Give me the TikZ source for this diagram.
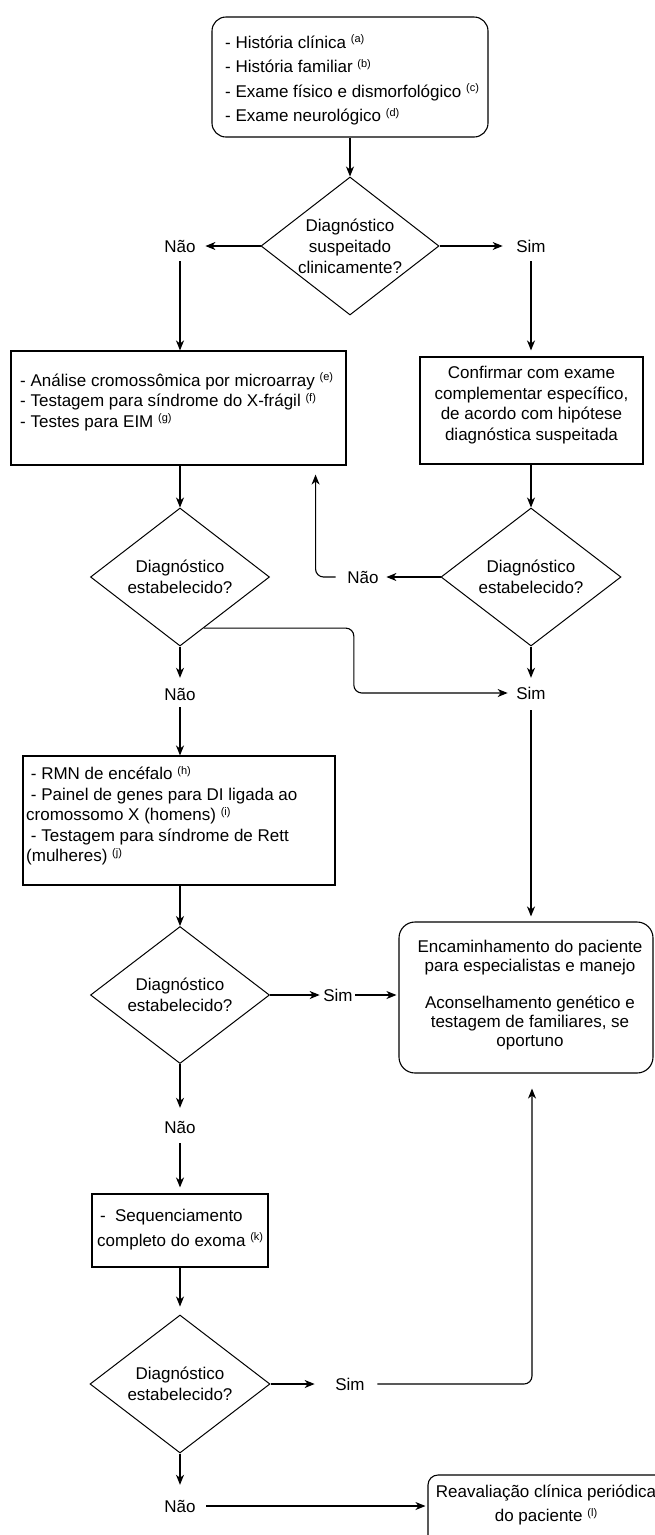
\documentclass[tikz,border=0pt]{standalone}
\usepackage{fontspec}
\setmainfont{Liberation Sans}
\usetikzlibrary{arrows.meta,shapes.geometric,calc}
\newcommand{\supx}[1]{\raisebox{5.5pt}{\fontsize{11}{11}\selectfont #1}}
\begin{document}
\begin{tikzpicture}[x=1pt,y=-1pt,
  ln/.style={line width=1.1pt, draw=black},
  arr/.style={ln, -{Stealth[length=10pt,width=8pt,inset=3pt]}},
  box/.style={draw, line width=1.1pt, inner sep=0pt, rectangle},
  rbox/.style={box, rounded corners=14pt},
  dec/.style={draw, line width=1pt, diamond, inner sep=0pt},
  txt/.style={inner sep=0pt, font=\fontsize{17}{20}\selectfont},
  lab/.style={inner sep=0pt, text height=12pt, text depth=0pt, font=\fontsize{17}{20}\selectfont}
]
\useasboundingbox (0,0) rectangle (655,1535);

% boxes
\node[rbox, minimum width=276pt, minimum height=120pt] (top) at (350,77) {};
\node[txt, align=left, anchor=west, font=\fontsize{17}{24.5}\selectfont] (ttop) at (225,80)
  {- História clínica \supx{(a)}\\- História familiar \supx{(b)}\\- Exame físico e dismorfológico \supx{(c)}\\- Exame neurológico \supx{(d)}};

\node[dec, minimum width=178pt, minimum height=138pt] (d1) at (350,246) {};
\node[txt, align=center, font=\fontsize{17}{21}\selectfont] (td1) at (350,246) {Diagnóstico\\suspeitado\\clinicamente?};

\node[lab] (nao1) at (180,246) {Não};
\node[lab] (sim1) at (531,246) {Sim};

\node[box, minimum width=335pt, minimum height=114pt] (box1) at (178.5,408) {};
\node[txt, align=left, anchor=west, font=\fontsize{17}{20.5}\selectfont] (tb1) at (20,402)
  {- Análise cromossômica por microarray \supx{(e)}\\- Testagem para síndrome do X-frágil \supx{(f)}\\- Testes para EIM \supx{(g)}};

\node[box, minimum width=223pt, minimum height=107pt] (box2) at (531.5,410.5) {};
\node[txt, align=center, font=\fontsize{17}{20.5}\selectfont] (tb2) at (531.5,405)
  {Confirmar com exame\\complementar específico,\\de acordo com hipótese\\diagnóstica suspeitada};

\node[dec, minimum width=179pt, minimum height=138pt] (d2) at (180,577) {};
\node[txt, align=center, font=\fontsize{17}{21.5}\selectfont] (td2) at (180,577) {Diagnóstico\\estabelecido?};
\node[dec, minimum width=180pt, minimum height=138pt] (d3) at (531,577) {};
\node[txt, align=center, font=\fontsize{17}{21.5}\selectfont] (td3) at (531,577) {Diagnóstico\\estabelecido?};

\node[lab] (nao2) at (363,577) {Não};
\node[lab] (sim2) at (531,693) {Sim};
\node[lab] (nao3) at (180,694) {Não};

\node[box, minimum width=312pt, minimum height=129pt] (box3) at (179,820.5) {};
\node[txt, align=left, anchor=west, font=\fontsize{17}{20.5}\selectfont] (tb3) at (26,816)
  {\ - RMN de encéfalo \supx{(h)}\\\ - Painel de genes para DI ligada ao\\cromossomo X (homens) \supx{(i)}\\\ - Testagem para síndrome de Rett\\(mulheres) \supx{(j)}};

\node[dec, minimum width=179pt, minimum height=137pt] (d4) at (180,995) {};
\node[txt, align=center, font=\fontsize{17}{21.5}\selectfont] (td4) at (180,995) {Diagnóstico\\estabelecido?};
\node[lab] (sim3) at (338,995) {Sim};

\node[rbox, rounded corners=16pt, minimum width=254pt, minimum height=151pt] (box6) at (526,997.5) {};
\node[txt, align=center, font=\fontsize{17}{18.8}\selectfont] (tb6) at (530,995)
  {Encaminhamento do paciente\\para especialistas e manejo\\[18.8pt]Aconselhamento genético e\\testagem de familiares, se\\oportuno};

\node[lab] (nao4) at (180,1127) {Não};

\node[box, minimum width=176pt, minimum height=73pt] (box5) at (180,1230.5) {};
\node[txt, align=left, anchor=west, font=\fontsize{17}{25}\selectfont] (tb5) at (97,1229.5)
  {\,-\ \ Sequenciamento\\completo do exoma \supx{(k)}};

\node[dec, minimum width=180pt, minimum height=138pt] (d5) at (180,1384) {};
\node[txt, align=center, font=\fontsize{17}{21.5}\selectfont] (td5) at (180,1384) {Diagnóstico\\estabelecido?};
\node[lab] (sim4) at (350,1384) {Sim};
\node[lab] (nao5) at (180,1506) {Não};

\begin{scope}
\clip (0,0) rectangle (655,1535);
\node[box, rounded corners=10pt, minimum width=260pt, minimum height=90pt] (box7) at (558,1520) {};
\end{scope}
\node[txt, align=center, font=\fontsize{17}{24}\selectfont] (tb7) at (546,1505)
  {Reavaliação clínica periódica\\do paciente \supx{(l)}};

% connectors
\draw[arr] (top.south) -- (d1.north);
\draw[arr, shorten >=9.6pt] (d1.west) -- (nao1.east);
\draw[arr, shorten >=13.5pt] (d1.east) -- (sim1.west);
\draw[arr, shorten <=9pt] (nao1.south) -- (nao1.south |- box1.north);
\draw[arr, shorten <=9pt, shorten >=6pt] (sim1.south) -- (sim1.south |- box2.north);
\draw[arr] (d2.north |- box1.south) -- (d2.north);
\draw[arr] (d3.north |- box2.south) -- (d3.north);
\draw[arr, shorten >=7.6pt] (d3.west) -- (nao2.east);
\draw[arr, rounded corners=8pt, shorten <=11.6pt, shorten >=9pt] (nao2.west) -| ([xshift=-31pt]box1.south east);
\draw[arr, rounded corners=8pt, shorten >=8.5pt] (d2.-65) -- ++(150,0) |- (sim2.west);
\draw[arr, shorten >=9pt] (d3.south) -- (sim2.north);
\draw[arr, shorten <=11pt, shorten >=5pt] (sim2.south) -- (sim2.south |- box6.north);
\draw[arr, shorten >=10pt] (d2.south) -- (nao3.north);
\draw[arr, shorten <=7pt] (nao3.south) -- (nao3.south |- box3.north);
\draw[arr] (d4.north |- box3.south) -- (d4.north);
\draw[arr, shorten >=3.5pt] (d4.east) -- (sim3.west);
\draw[arr, shorten <=2.5pt, shorten >=2pt] (sim3.east) -- (sim3.east -| box6.west);
\draw[arr, shorten >=13pt] (d4.south) -- (nao4.north);
\draw[arr, shorten <=10pt, shorten >=6pt] (nao4.south) -- (box5.north);
\draw[arr, shorten >=8pt] (box5.south) -- (d5.north);
\draw[arr, shorten >=20.5pt] (d5.east) -- (sim4.west);
\draw[arr, rounded corners=8pt, shorten <=12.5pt, shorten >=15pt] (sim4.east) -| ([xshift=6pt]box6.south);
\draw[arr, shorten >=15pt] (d5.south) -- (nao5.north);
\draw[arr, shorten <=10.6pt, shorten >=2pt] (nao5.east) -- (nao5.east -| box7.west);
\end{tikzpicture}
\end{document}
